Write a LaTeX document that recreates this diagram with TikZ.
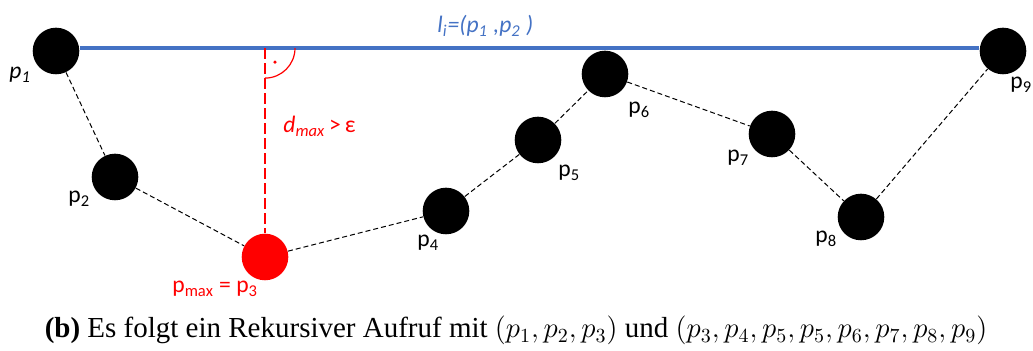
\documentclass[tikz,border=0pt]{standalone}
\usepackage{fontspec}
\setmainfont{Liberation Serif}
\newfontfamily\lblfont{Carlito}
\usetikzlibrary{calc}
\definecolor{lineblue}{HTML}{4472C4}
\definecolor{ptred}{HTML}{FF0000}
\tikzset{
  pt/.style={circle, fill=black, inner sep=0pt, minimum size=23.3pt},
  ptmax/.style={pt, fill=ptred},
  seg/.style={dash pattern=on 2.5pt off 1.5pt, line width=0.5pt},
  lbl/.style={inner sep=0pt, anchor=base west, font=\lblfont\fontsize{11.8}{14}\selectfont},
}

\begin{document}
\begin{tikzpicture}[x=0.5pt, y=-0.5pt]
\useasboundingbox (0,0) rectangle (1033,351);
% points of the polyline
\node[pt] (p1) at (56,51) {};
\node[pt] (p2) at (115,177) {};
\node[ptmax] (p3) at (265,257) {};
\node[pt] (p4) at (446,211) {};
\node[pt] (p5) at (538,140) {};
\node[pt] (p6) at (605,74) {};
\node[pt] (p7) at (772,134) {};
\node[pt] (p8) at (861,217) {};
\node[pt] (p9) at (1003,51) {};
% segments
\draw[seg] (p1) -- (p2) (p2) -- (p3) (p3) -- (p4) (p4) -- (p5);
\draw[seg] (p5) -- (p6) (p6) -- (p7) (p7) -- (p8) (p8) -- (p9);
% line l_i and distance
\draw[lineblue, line width=2pt] (p1.7) -- (p9.173);
\coordinate (foot) at (p3 |- p1.7);
\draw[ptred, line width=1pt, dash pattern=on 5.5pt off 2pt] (foot) -- (p3.north);
\draw[ptred, line width=0.6pt] ([xshift=15pt]foot) arc[start angle=0, end angle=-90, radius=15pt];
\fill[ptred] ($(foot)+(10,14)$) circle[radius=0.9pt];
% labels
\node[lbl] (l1) at (9,79) {\itshape p\textsubscript{1}};
\node[lbl] (l2) at (68,203) {p\textsubscript{2}};
\node[lbl, text=ptred] (l3) at (172,293) {p\textsubscript{max} = p\textsubscript{3}};
\node[lbl] (l4) at (417,247) {p\textsubscript{4}};
\node[lbl] (l5) at (558,177) {p\textsubscript{5}};
\node[lbl] (l6) at (628,114) {p\textsubscript{6}};
\node[lbl] (l7) at (727,162) {p\textsubscript{7}};
\node[lbl] (l8) at (815,243) {p\textsubscript{8}};
\node[lbl] (l9) at (1010,89) {p\textsubscript{9}};
\node[lbl, text=lineblue] (li) at (437,33) {\itshape l\textsubscript{i}=(p\textsubscript{1} ,p\textsubscript{2} )};
\node[lbl, text=ptred] (dmax) at (283,133) {\textit{d\textsubscript{max}}\,{>}\,ε};
% caption
\node[inner sep=0pt, anchor=base, font=\fontsize{14.5}{17}\selectfont] (cap) at (516,338)
  {\textbf{(b)} Es folgt ein Rekursiver Aufruf mit $(p_1, p_2, p_3)$ und $(p_3, p_4, p_5, p_5, p_6, p_7, p_8, p_9)$};
\end{tikzpicture}
\end{document}
